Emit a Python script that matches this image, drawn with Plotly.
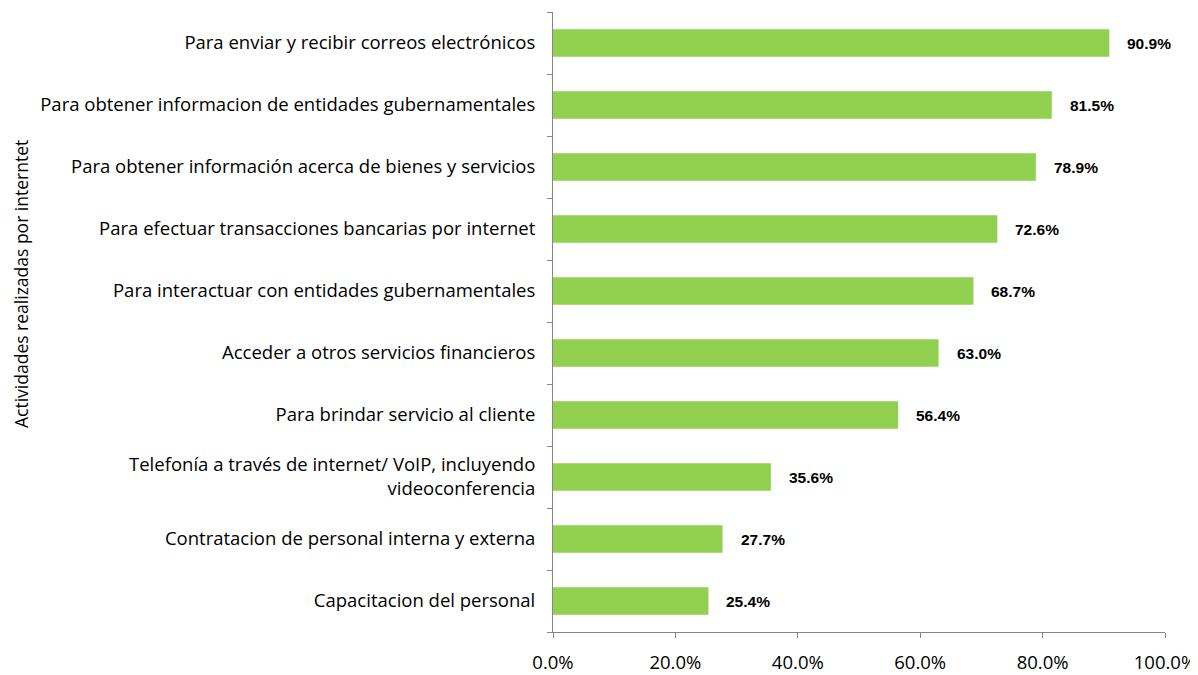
import plotly.graph_objects as go

categories = [
    "Para enviar y recibir correos electrónicos",
    "Para obtener informacion de entidades gubernamentales",
    "Para obtener información acerca de bienes y servicios",
    "Para efectuar transacciones bancarias por internet",
    "Para interactuar con entidades gubernamentales",
    "Acceder a otros servicios financieros",
    "Para brindar servicio al cliente",
    "Telefonía a través de internet/ VoIP, incluyendo<br>videoconferencia",
    "Contratacion de personal interna y externa",
    "Capacitacion del personal",
]
values = [90.9, 81.5, 78.9, 72.6, 68.7, 63.0, 56.4, 35.6, 27.7, 25.4]
x_ticks = [0, 20, 40, 60, 80, 100]
x_tick_labels = ["0.0%", "20.0%", "40.0%", "60.0%", "80.0%", "100.0%"]

cats = categories[::-1]
vals = values[::-1]

fig = go.Figure()
fig.add_trace(go.Bar(
    x=vals, y=cats, orientation="h",
    marker=dict(color="#92D050", line=dict(width=0)),
    hoverinfo="skip",
))

for c, v in zip(cats, vals):
    fig.add_annotation(
        x=v, y=c, text=f"<b>{v:.1f}%</b>", showarrow=False,
        xanchor="left", xshift=16,
        font=dict(family="Liberation Sans, Arial, sans-serif", size=15.5, color="#000000"),
    )

fig.add_annotation(
    x=0, xref="paper", xanchor="center", xshift=-532,
    y=0.5, yref="paper", yshift=38,
    text="Actividades realizadas por interntet", textangle=-90, showarrow=False,
    font=dict(family="Open Sans, sans-serif", size=17.5, color="#000000"),
)

# page body has an 8px margin; compensate so the figure fills the 1198x675 window
fig.update_layout(
    width=1190, height=667,
    margin=dict(l=545, r=33, t=4, b=43, autoexpand=False),
    paper_bgcolor="white", plot_bgcolor="white",
    showlegend=False, bargap=0.56,
    font=dict(family="Open Sans, sans-serif", size=16, color="#000000"),
)
fig.update_xaxes(
    range=[0, 100], tickvals=x_ticks, ticktext=x_tick_labels,
    showgrid=False, zeroline=False, automargin=False,
    showline=True, linecolor="#868686", linewidth=1,
    ticks="outside", ticklen=5, tickcolor="#868686",
    tickfont=dict(size=18.5), ticklabelstandoff=9,
)
fig.update_yaxes(
    showgrid=False, zeroline=False, automargin=False,
    showline=True, linecolor="#868686", linewidth=1,
    ticks="outside", ticklen=5, tickcolor="#868686", tickson="boundaries",
    tickfont=dict(size=18.5), ticklabelstandoff=13,
)

fig.write_html("out.html")
